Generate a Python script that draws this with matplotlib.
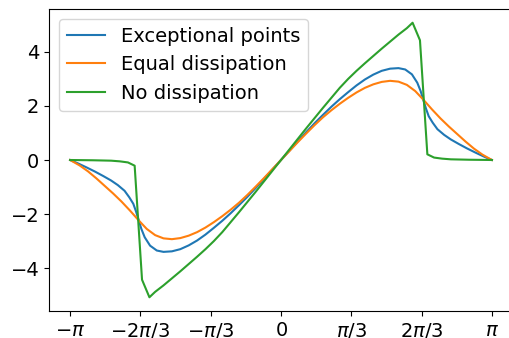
import numpy as np
import matplotlib
matplotlib.use("Agg")
import matplotlib.pyplot as plt

PI = np.pi

# Exceptional points (blue)
x_ep = [-PI, -3.02, -2.9, -2.77, -2.65, -2.53, -2.43, -2.33, -2.26, -2.2, -2.16, -2.12, -2.08,
        -2.03, -1.95, -1.85, -1.75, -1.625, -1.5, -1.375, -1.25, -1.125, -1.0, -0.875, -0.75,
        -0.625, -0.5, -0.375, -0.25, -0.125, 0.0,
        0.125, 0.25, 0.375, 0.5, 0.625, 0.75, 0.875, 1.0, 1.125, 1.25, 1.375, 1.5, 1.625,
        1.75, 1.85, 1.95, 2.03, 2.08, 2.12, 2.16, 2.2, 2.26, 2.33, 2.43, 2.53, 2.65, 2.77,
        2.9, 3.02, PI]
y_ep = [0.0, -0.13, -0.27, -0.43, -0.59, -0.76, -0.93, -1.14, -1.38, -1.62, -1.90, -2.22, -2.55,
        -2.86, -3.17, -3.35, -3.40, -3.38, -3.30, -3.16, -2.98, -2.76, -2.51, -2.25, -1.97,
        -1.67, -1.36, -1.03, -0.69, -0.34, 0.0,
        0.34, 0.69, 1.03, 1.36, 1.67, 1.97, 2.25, 2.51, 2.76, 2.98, 3.16, 3.30, 3.38,
        3.40, 3.35, 3.17, 2.86, 2.55, 2.22, 1.90, 1.62, 1.38, 1.14, 0.93, 0.76, 0.59, 0.43,
        0.27, 0.13, 0.0]

# Equal dissipation (orange)
x_eq = [-PI, -3.0, -2.875, -2.75, -2.625, -2.5, -2.375, -2.25, -2.125, -2.0, -1.875, -1.75,
        -1.625, -1.5, -1.375, -1.25, -1.125, -1.0, -0.875, -0.75, -0.625, -0.5, -0.375,
        -0.25, -0.125, 0.0,
        0.125, 0.25, 0.375, 0.5, 0.625, 0.75, 0.875, 1.0, 1.125, 1.25, 1.375, 1.5, 1.625,
        1.75, 1.875, 2.0, 2.125, 2.25, 2.375, 2.5, 2.625, 2.75, 2.875, 3.0, PI]
y_eq = [0.0, -0.20, -0.42, -0.68, -0.96, -1.24, -1.54, -1.87, -2.22, -2.55, -2.78, -2.90,
        -2.93, -2.89, -2.80, -2.67, -2.50, -2.30, -2.08, -1.84, -1.58, -1.29, -0.98,
        -0.66, -0.33, 0.0,
        0.33, 0.66, 0.98, 1.29, 1.58, 1.84, 2.08, 2.30, 2.50, 2.67, 2.80, 2.89, 2.93,
        2.90, 2.78, 2.55, 2.22, 1.87, 1.54, 1.24, 0.96, 0.68, 0.42, 0.20, 0.0]

# No dissipation (green)
x_no = [-PI, -2.8, -2.53, -2.4, -2.28, -2.18, -2.07, -1.96, -1.875, -1.75, -1.625, -1.5,
        -1.375, -1.25, -1.125, -1.0, -0.875, -0.75, -0.625, -0.5, -0.375, -0.25, -0.125, 0.0,
        0.125, 0.25, 0.375, 0.5, 0.625, 0.75, 0.875, 1.0, 1.125, 1.25, 1.375, 1.5, 1.625,
        1.75, 1.875, 1.96, 2.07, 2.18, 2.28, 2.4, 2.53, 2.8, PI]
y_no = [0.0, -0.01, -0.025, -0.05, -0.09, -0.21, -4.43, -5.08, -4.88, -4.64, -4.38, -4.12,
        -3.85, -3.58, -3.30, -3.00, -2.67, -2.30, -1.93, -1.55, -1.17, -0.78, -0.39, 0.0,
        0.39, 0.78, 1.17, 1.55, 1.93, 2.30, 2.67, 3.00, 3.30, 3.58, 3.85, 4.12, 4.38,
        4.64, 4.88, 5.08, 4.43, 0.21, 0.09, 0.05, 0.025, 0.01, 0.0]

tick_pos = [-PI, -2 * PI / 3, -PI / 3, 0, PI / 3, 2 * PI / 3, PI]
tick_labels = [r"$-\pi$", r"$-2\pi/3$", r"$-\pi/3$", r"$0$", r"$\pi/3$", r"$2\pi/3$", r"$\pi$"]

plt.rcParams['font.size'] = 14
fig = plt.figure(figsize=(5.09, 3.38), dpi=100)
ax = fig.add_axes([49 / 509, 27 / 338, (513 - 49) / 509, (311 - 9) / 338])
ax.plot(x_ep, y_ep, color="C0", label="Exceptional points")
ax.plot(x_eq, y_eq, color="C1", label="Equal dissipation")
ax.plot(x_no, y_no, color="C2", label="No dissipation")
ax.set_xticks(tick_pos)
ax.set_xticklabels(tick_labels)
ax.legend(loc="upper left")
fig.savefig("out.png", dpi=100)
